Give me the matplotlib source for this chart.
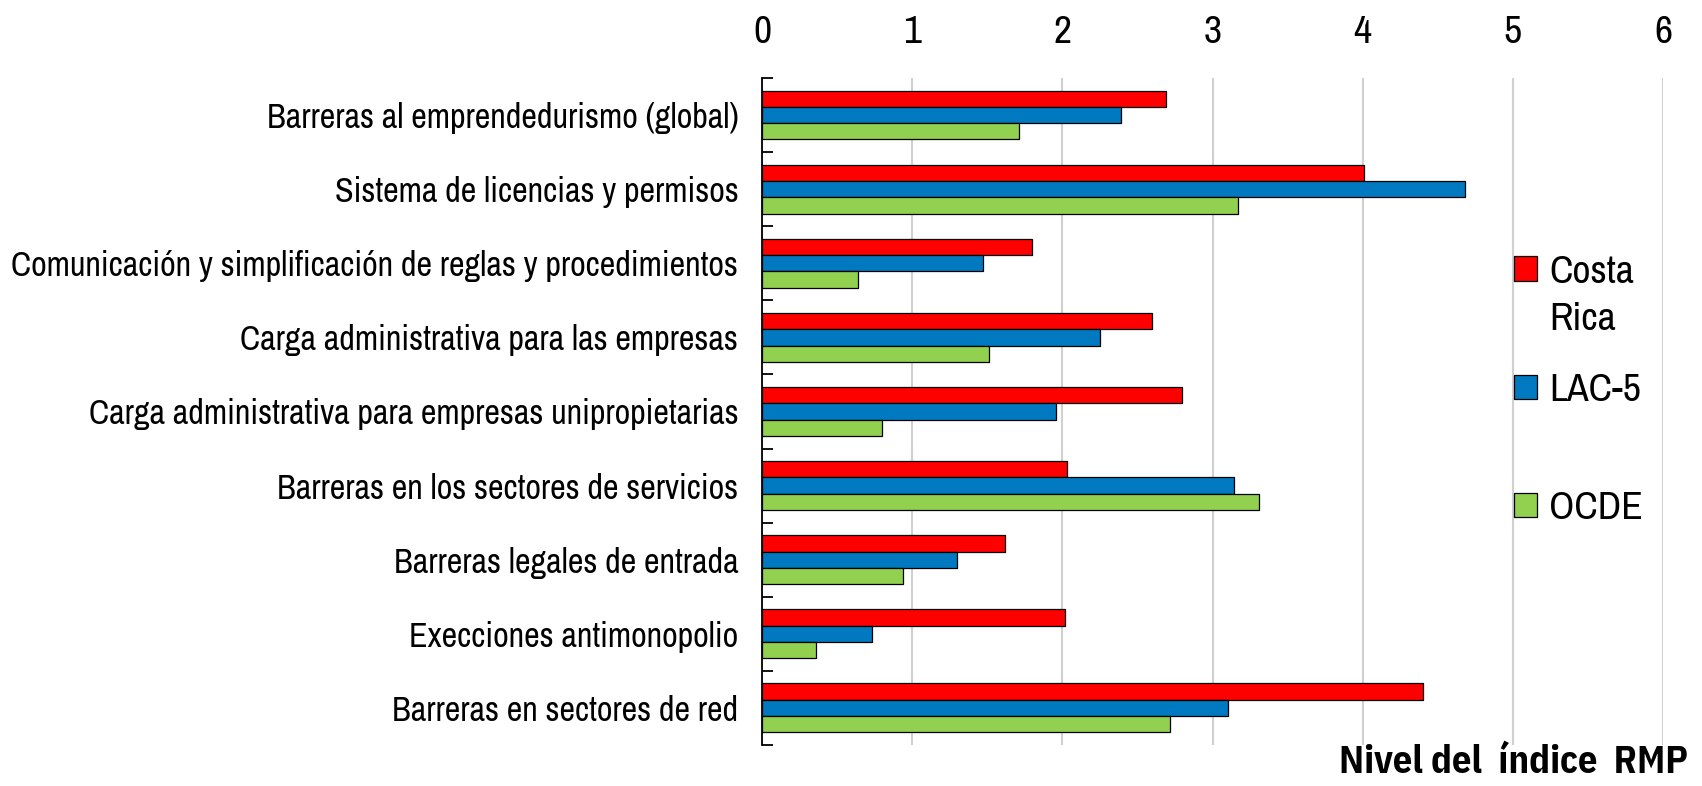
import numpy as np
import matplotlib.pyplot as plt

plt.rcParams['font.family'] = ['Archivo Narrow', 'Liberation Sans', 'DejaVu Sans']

categories = [
    'Barreras al emprendedurismo (global)',
    'Sistema de licencias y permisos',
    'Comunicación y simplificación de reglas y procedimientos',
    'Carga administrativa para las empresas',
    'Carga administrativa para empresas unipropietarias',
    'Barreras en los sectores de servicios',
    'Barreras legales de entrada',
    'Execciones antimonopolio',
    'Barreras en sectores de red',
]
costa_rica = [2.69, 4.01, 1.80, 2.60, 2.80, 2.03, 1.62, 2.02, 4.40]
lac5 = [2.39, 4.68, 1.47, 2.25, 1.96, 3.14, 1.30, 0.73, 3.10]
ocde = [1.71, 3.17, 0.64, 1.51, 0.80, 3.31, 0.94, 0.36, 2.72]
series_names = ['Costa', 'LAC-5', 'OCDE']
colors = ['#FF0000', '#0079C1', '#92D050']

fig = plt.figure(figsize=(17.02, 7.86), dpi=100)
ax = fig.add_axes([0.4477, 0.0522, 0.9771 - 0.4477, 0.9008 - 0.0522])

y = np.arange(len(categories))
h = 0.22
bars = []
for k, (vals, col) in enumerate(zip([costa_rica, lac5, ocde], colors)):
    b = ax.barh(y + (k - 1) * h, vals, height=h, color=col,
                edgecolor='black', linewidth=0.9, zorder=3)
    bars.append(b)

ax.set_xlim(0, 6)
ax.set_ylim(len(categories) - 0.5, -0.5)

ax.xaxis.tick_top()
ax.set_xticks(range(7))
ax.tick_params(axis='x', length=0, labelsize=28.5, pad=20)
ax.grid(axis='x', color='#D0D0D0', linewidth=1.5, zorder=0)

ax.set_yticks(y)
ax.set_yticklabels(categories)
ax.tick_params(axis='y', which='major', length=0, labelsize=24.6, pad=17)
ax.set_yticks(np.arange(len(categories) + 1) - 0.5, minor=True)
ax.tick_params(axis='y', which='minor', direction='in', length=8, width=1.3)

for s in ['top', 'right', 'bottom']:
    ax.spines[s].set_visible(False)
ax.spines['left'].set_linewidth(1.3)
ax.spines['left'].set_zorder(4)

# legend: "Costa Rica" wraps onto a second line below the marker row
leg = ax.legend([b[0] for b in bars], series_names, loc='upper left',
                bbox_to_anchor=(0.8897, 0.676), bbox_transform=fig.transFigure,
                frameon=False, fontsize=28.5,
                handlelength=0.58, handleheight=0.58, handletextpad=0.3,
                labelspacing=2.1, borderaxespad=0, borderpad=0)
ax.annotate('Rica', xy=(0, 0), xycoords=leg.get_texts()[0],
            xytext=(0, -1.2 * 28.5), textcoords='offset points',
            ha='left', va='bottom', fontsize=28.5, zorder=6)

fig.text(0.9918, 1 - 773 / 786, 'Nivel del  índice  RMP', ha='right',
         va='baseline', fontsize=27.5, fontweight='bold',
         family=['IBM Plex Sans Condensed', 'Liberation Sans', 'DejaVu Sans'])

fig.savefig('out.png', dpi=100)
